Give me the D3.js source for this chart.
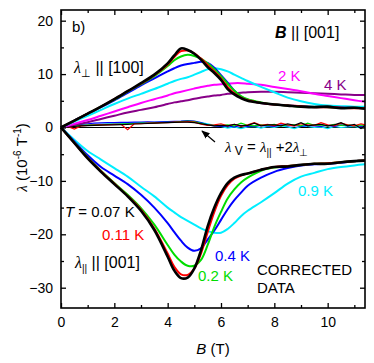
<!DOCTYPE html>
<html>
<head>
<meta charset="utf-8">
<script src="https://cdn.jsdelivr.net/npm/d3@7"></script>
<style>
  body { margin: 0; background: #fff; }
  text { font-family: "Liberation Sans", Arial, sans-serif; }
  .greek { font-family: "Liberation Serif", "Times New Roman", serif; font-style: italic; }
</style>
</head>
<body>
<div id="chart"></div>
<script>
// field grid (T) for the lambda_perp / lambda_par curves
var fieldB = [0, 0.5, 1, 1.5, 2, 2.5, 3, 3.5, 4,
  4.25, 4.5, 4.75, 5, 5.25, 5.5, 5.75, 6, 6.25, 6.5, 6.75, 7,
  7.5, 8, 8.5, 9, 9.5, 10, 10.5, 11, 11.4];

// lambda_perp || [100]  (10^-6 T^-1)
var perp007 = [0,1.3,2.6,3.9,5.3,6.8,8.3,9.9,12.0, 13.5,14.8,14.5,13.8,12.7,11.3,10.2,8.9,7.2,6.2,5.5,5.0, 4.6,4.3,4.1,3.9,3.8,3.9,3.6,3.7,3.5];
var perp011 = [0,1.3,2.6,3.9,5.3,6.8,8.2,9.8,11.8, 13.2,14.3,14.4,13.9,12.9,11.7,10.5,9.2,7.6,6.4,5.6,5.1, 4.6,4.3,4.1,4.0,3.8,3.8,3.7,3.6,3.6];
var perp02  = [0,1.3,2.6,3.9,5.2,6.7,8.1,9.6,11.5, 12.6,13.3,13.6,13.4,12.9,12.0,10.9,9.6,8.2,6.9,5.9,5.3, 4.7,4.3,4.1,3.9,3.9,3.8,3.7,3.7,3.6];
var perp04  = [0,1.3,2.6,3.8,5.1,6.5,7.9,9.2,10.5, 11.1,11.6,11.9,12.1,12.3,12.1,11.2,9.8,8.4,6.9,5.8,5.2, 4.6,4.3,4.1,4.0,3.9,3.8,3.8,3.7,3.6];
var perp09  = [0,1.1,2.2,3.3,4.4,5.4,6.3,7.2,8.2, 8.7,9.1,9.4,9.9,10.4,10.9,11.1,10.9,10.5,9.9,9.3,8.7, 7.6,6.6,5.6,4.9,4.4,4.1,4.0,3.9,3.9];
var perp2   = [0,0.7,1.4,2.2,3.0,3.8,4.6,5.3,6.0, 6.4,6.7,7.0,7.3,7.6,7.8,8.0,8.1,8.2,8.3,8.3,8.2, 8.0,7.6,7.2,6.8,6.3,5.9,5.5,5.1,4.8];
var perp4   = [0,0.5,1.0,1.6,2.2,2.8,3.3,3.8,4.4, 4.7,4.9,5.1,5.4,5.6,5.8,6.0,6.1,6.3,6.4,6.5,6.6, 6.7,6.7,6.6,6.5,6.4,6.3,6.2,6.1,6.1];

// lambda_par || [001]
var par007 = [0,-2.9,-5.8,-8.3,-10.6,-12.9,-15.6,-19.2,-24.2, -26.8,-28.2,-28.1,-26.4,-23.0,-18.5,-15.0,-12.3,-10.4,-9.4,-8.9,-8.6, -7.9,-7.4,-7.3,-7.0,-6.8,-6.8,-6.5,-6.3,-6.2];
var par011 = [0,-2.9,-5.7,-8.2,-10.5,-12.8,-15.4,-18.9,-23.6, -26.1,-27.5,-27.6,-26.4,-23.6,-19.6,-15.8,-12.8,-10.8,-9.6,-9.0,-8.6, -7.9,-7.4,-7.2,-7.0,-6.8,-6.7,-6.5,-6.3,-6.2];
var par02  = [0,-2.8,-5.6,-8.1,-10.4,-12.6,-15.1,-18.2,-22.0, -23.8,-25.1,-25.9,-25.9,-24.8,-22.0,-18.6,-15.8,-13.3,-11.6,-10.3,-9.4, -8.1,-7.5,-7.2,-7.0,-6.8,-6.7,-6.5,-6.3,-6.2];
var par04  = [0,-2.6,-5.2,-7.4,-9.0,-10.6,-12.6,-15.0,-17.9, -19.6,-21.2,-22.5,-23.1,-22.6,-21.0,-19.3,-17.3,-15.3,-13.6,-12.2,-10.9, -9.4,-8.3,-7.6,-7.1,-6.9,-6.8,-6.6,-6.3,-6.2];
var par09  = [0,-2.3,-4.4,-6.0,-7.6,-9.2,-11.1,-12.9,-15.0, -15.9,-16.8,-17.5,-18.2,-18.9,-19.4,-19.7,-19.7,-19.0,-17.9,-16.6,-15.6, -14.0,-12.3,-10.5,-9.2,-8.5,-7.8,-7.4,-7.1,-6.9];

// volume term lambda_V, finer field grid
var fieldV = [0,0.25,0.5,0.75,1,1.25,1.5,1.75,2,2.25,2.5,2.75,3,3.25,3.5,3.75,4,4.25,4.5,4.75,5,5.25,5.5,5.75,
  6,6.25,6.5,6.75,7,7.25,7.5,7.75,8,8.25,8.5,8.75,9,9.25,9.5,9.75,10,10.25,10.5,10.75,11,11.25,11.4];
var vol09  = [0,0.2,0.3,0.4,0.5,0.55,0.6,0.65,0.7,0.75,0.8,0.85,0.9,0.9,0.95,1.0,1.0,1.05,1.1,1.1,1.0,0.9,0.7,0.4,0.2,-0.1,0.1,-0.2,0.1,0.2,-0.1,0.2,0.0,0.3,0.1,-0.2,0.2,0.2,0.0,0.1,-0.2,0.2,0.0,0.1,0.2,-0.1,0.2];
var vol04  = [0,0.3,0.5,0.6,0.7,0.8,0.85,0.9,0.9,0.95,0.95,1.0,1.0,1.05,1.0,1.05,1.1,1.15,1.2,1.3,1.2,0.9,0.5,0.3,0.2,0.3,0.1,0.4,0.2,0.2,0.4,0.3,0.2,0.5,0.3,0.4,0.2,0.4,0.3,0.2,0.4,0.2,0.5,0.3,0.4,0.2,0.3];
var vol02  = [0,0.2,0.3,0.4,0.45,0.5,0.55,0.6,0.6,0.65,0.7,0.75,0.8,0.8,0.85,0.9,0.95,1.0,1.1,1.2,1.1,0.8,0.5,0.4,0.4,0.5,0.3,0.8,0.4,0.3,0.5,0.4,0.6,0.3,0.5,0.5,0.3,0.8,0.4,0.5,0.3,0.6,0.4,0.5,0.3,0.5,0.4];
var vol011 = [0,0.2,-0.3,0.3,0.4,0.45,0.5,0.5,0.6,0.6,-0.4,0.7,0.7,0.8,0.8,0.9,0.9,1.0,1.0,1.1,1.0,0.6,0.4,0.5,0.7,0.3,0.6,0.2,0.5,0.9,0.4,0.6,0.3,0.8,0.5,0.3,0.7,0.5,0.4,0.9,0.5,0.3,0.8,0.5,0.3,0.7,0.5];
var vol007 = [0,0.1,0.2,0.3,0.35,0.4,0.45,0.5,0.5,0.55,0.6,0.65,0.7,0.75,0.8,0.85,0.9,0.95,1.0,1.0,0.9,0.7,0.5,0.3,0.4,0.3,0.6,0.3,0.4,0.8,0.3,0.5,0.5,0.3,0.7,0.4,0.9,0.3,0.5,0.6,0.3,0.5,0.9,0.3,0.6,-0.2,0.4];

var xMajor = [0, 2, 4, 6, 8, 10];
var xMinor = [1, 3, 5, 7, 9, 11];
var yMajor = [-30, -20, -10, 0, 10, 20];
var yMinor = [-25, -15, -5, 5, 15];

var colors = { k007: "#000000", k011: "#ff0000", k02: "#00dd00", k04: "#0000ff",
               k09: "#00eeff", k2: "#ff00ff", k4: "#880088" };

var width = 374, height = 363;
var margin = {top: 10, right: 9, bottom: 55, left: 61};
var w = width - margin.left - margin.right,
    h = height - margin.top - margin.bottom;

var svg = d3.select("#chart").append("svg")
    .attr("width", width).attr("height", height)
  .append("g")
    .attr("transform", "translate(" + margin.left + "," + margin.top + ")");

var x = d3.scaleLinear().domain([0, 11.4]).range([0, w]);
var y = d3.scaleLinear().domain([-33.8, 22]).range([h, 0]);

var line = d3.line()
    .x(function(d) { return x(d[0]); })
    .y(function(d) { return y(d[1]); })
    .curve(d3.curveCatmullRom.alpha(0.5));

function pairs(xs, ys) { return xs.map(function(v, i) { return [v, ys[i]]; }); }

var plot = svg.append("g");

// zero line
plot.append("line")
    .attr("x1", x(0)).attr("x2", x(11.4))
    .attr("y1", y(0)).attr("y2", y(0))
    .attr("stroke", "#000").attr("stroke-width", 1.2);

// lambda_V curves
[[vol09, colors.k09], [vol04, colors.k04], [vol02, colors.k02], [vol011, colors.k011], [vol007, colors.k007]]
  .forEach(function(s) {
    plot.append("path").datum(pairs(fieldV, s[0]))
      .attr("fill", "none").attr("stroke", s[1]).attr("stroke-width", 1.2)
      .attr("d", d3.line().x(function(d) { return x(d[0]); }).y(function(d) { return y(d[1]); }));
  });

var series = [
  [perp4, colors.k4, 2], [perp2, colors.k2, 2], [perp09, colors.k09, 2], [perp04, colors.k04, 2],
  [perp02, colors.k02, 2], [perp011, colors.k011, 2], [perp007, colors.k007, 2.6],
  [par09, colors.k09, 2], [par04, colors.k04, 2], [par02, colors.k02, 2],
  [par011, colors.k011, 2], [par007, colors.k007, 2.6]
];
series.forEach(function(s) {
  plot.append("path").datum(pairs(fieldB, s[0]))
    .attr("fill", "none").attr("stroke", s[1]).attr("stroke-width", s[2])
    .attr("stroke-linejoin", "round")
    .attr("d", line);
});

// axes, ticks inside on all four sides
function styleAxis(g) {
  g.select(".domain").remove();
  g.selectAll("line").attr("stroke", "#000").attr("stroke-width", 1.3);
  g.selectAll("text").attr("font-size", 14).attr("fill", "#000")
    .style("font-family", "'Liberation Sans', Arial, sans-serif");
}
svg.append("g").attr("transform", "translate(0," + h + ")")
  .call(d3.axisBottom(x).tickValues(xMajor).tickSize(-5).tickPadding(9).tickFormat(d3.format("d")))
  .call(styleAxis);
svg.append("g").attr("transform", "translate(0," + h + ")")
  .call(d3.axisBottom(x).tickValues(xMinor).tickSize(-3).tickFormat(""))
  .call(styleAxis);
svg.append("g")
  .call(d3.axisTop(x).tickValues(xMajor).tickSize(-5).tickFormat(""))
  .call(styleAxis);
svg.append("g")
  .call(d3.axisTop(x).tickValues(xMinor).tickSize(-3).tickFormat(""))
  .call(styleAxis);
svg.append("g")
  .call(d3.axisLeft(y).tickValues(yMajor).tickSize(-5).tickPadding(8).tickFormat(d3.format("d")))
  .call(styleAxis);
svg.append("g")
  .call(d3.axisLeft(y).tickValues(yMinor).tickSize(-3).tickFormat(""))
  .call(styleAxis);
svg.append("g").attr("transform", "translate(" + w + ",0)")
  .call(d3.axisRight(y).tickValues(yMajor).tickSize(-5).tickFormat(""))
  .call(styleAxis);
svg.append("g").attr("transform", "translate(" + w + ",0)")
  .call(d3.axisRight(y).tickValues(yMinor).tickSize(-3).tickFormat(""))
  .call(styleAxis);

svg.append("rect").attr("width", w).attr("height", h)
  .attr("fill", "none").attr("stroke", "#000").attr("stroke-width", 1.6);

// axis titles
var xt = svg.append("text").attr("x", x(5.7)).attr("y", h + 46)
  .attr("text-anchor", "middle").attr("font-size", 15);
xt.append("tspan").attr("font-style", "italic").text("B");
xt.append("tspan").text(" (T)");

var yt = svg.append("text")
  .attr("transform", "translate(-34," + y(-5.6) + ") rotate(-90)")
  .attr("text-anchor", "middle").attr("font-size", 15);
yt.append("tspan").attr("class", "greek").text("λ");
yt.append("tspan").text(" (10");
yt.append("tspan").attr("font-size", 10).attr("dy", -6).text("-6");
yt.append("tspan").attr("dy", 6).text(" T");
yt.append("tspan").attr("font-size", 10).attr("dy", -6).text("-1");
yt.append("tspan").attr("dy", 6).text(")");

// annotations
function label(px, py, color, size) {
  return svg.append("text").attr("x", px - margin.left).attr("y", py - margin.top)
    .attr("fill", color).attr("font-size", size || 15);
}
label(72, 32, "#000", 15).text("b)");

var t1 = label(74, 73, "#000", 16);
t1.append("tspan").attr("class", "greek").text("λ");
t1.append("tspan").attr("font-size", 11).attr("dy", 4).text("⊥");
t1.append("tspan").attr("dy", -4).text(" || [100]");

var t2 = label(275, 38, "#000", 16);
t2.append("tspan").attr("font-weight", "bold").attr("font-style", "italic").text("B");
t2.append("tspan").text(" || [001]");

label(278, 81, colors.k2, 15).text("2 K");
label(324, 90, colors.k4, 15).text("4 K");

var t3 = label(225, 152, "#000", 15);
t3.append("tspan").attr("class", "greek").text("λ");
t3.append("tspan").attr("font-size", 12).attr("dy", 3).text(" V");
t3.append("tspan").attr("dy", -3).text(" = ");
t3.append("tspan").attr("class", "greek").text("λ");
t3.append("tspan").attr("font-size", 10).attr("dy", 4).text("||");
t3.append("tspan").attr("dy", -4).text(" +2");
t3.append("tspan").attr("class", "greek").text("λ");
t3.append("tspan").attr("font-size", 10).attr("dy", 4).text("⊥");

// arrow to lambda_V curves
svg.append("defs").append("marker").attr("id", "ah")
  .attr("viewBox", "0 0 10 10").attr("refX", 9).attr("refY", 5)
  .attr("markerWidth", 7).attr("markerHeight", 7).attr("orient", "auto")
  .append("path").attr("d", "M0,1 L10,5 L0,9 Z").attr("fill", "#000");
svg.append("line")
  .attr("x1", 215 - margin.left).attr("y1", 142 - margin.top)
  .attr("x2", 202 - margin.left).attr("y2", 131 - margin.top)
  .attr("stroke", "#000").attr("stroke-width", 1.2).attr("marker-end", "url(#ah)");

var t4 = label(65, 217, "#000", 15);
t4.append("tspan").attr("font-style", "italic").text("T");
t4.append("tspan").text(" = 0.07 K");
label(102, 240, colors.k011, 15).text("0.11 K");

var t5 = label(75, 268, "#000", 16);
t5.append("tspan").attr("class", "greek").text("λ");
t5.append("tspan").attr("font-size", 10).attr("dy", 4).text("||");
t5.append("tspan").attr("dy", -4).text(" || [001]");

label(298, 196, colors.k09, 15).text("0.9 K");
label(215, 261, colors.k04, 15).text("0.4 K");
label(198, 281, colors.k02, 15).text("0.2 K");
label(257, 275, "#000", 15).text("CORRECTED");
label(257, 293, "#000", 15).text("DATA");
</script>
</body>
</html>
